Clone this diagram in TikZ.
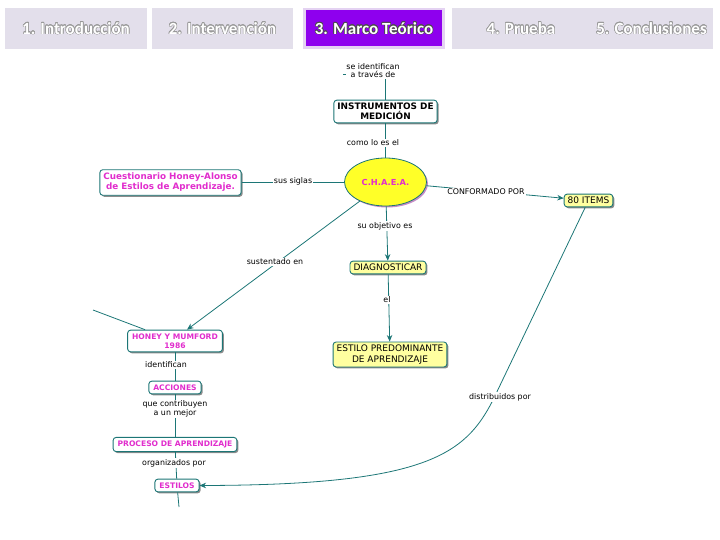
\documentclass[tikz,border=0pt]{standalone}
\usepackage{fontspec}
\setmainfont{DejaVu Sans}
\newfontfamily\carlito{Carlito}
\usepackage{contour}
\contourlength{0.5pt}
\usetikzlibrary{shapes.geometric,shadows,arrows.meta}

\definecolor{lavanda}{RGB}{227,223,235}
\definecolor{morado}{RGB}{142,0,238}
\definecolor{bordemorado}{RGB}{228,210,242}
\definecolor{verdeazul}{RGB}{28,118,118}
\definecolor{rosa}{RGB}{225,45,205}
\definecolor{amarillo}{RGB}{255,255,40}
\definecolor{amarilloclaro}{RGB}{255,255,160}

\tikzset{
  pestana/.style={fill=lavanda, draw=none, minimum height=41pt, inner sep=0pt,
    font=\carlito\bfseries\fontsize{17}{17}\selectfont, text=white},
  concepto/.style={rectangle, rounded corners=3pt, draw=verdeazul, line width=0.9pt,
    fill=white, align=center, inner xsep=4.5pt, inner ysep=3.5pt,
    drop shadow={shadow xshift=1.5pt, shadow yshift=-1.5pt, fill=black!45, opacity=1}},
  conceptorosa/.style={concepto, text=rosa, font=\bfseries\fontsize{7.6}{9}\selectfont},
  conceptoamarillo/.style={concepto, fill=amarilloclaro, inner xsep=3.5pt, inner ysep=3pt,
    font=\fontsize{9}{10.5}\selectfont},
  enlace/.style={fill=white, inner sep=0.8pt, align=center, font=\fontsize{7.9}{8.8}\selectfont},
  conector/.style={draw=verdeazul, line width=0.8pt},
  flecha/.style={conector, -{Stealth[length=6.5pt,width=5.5pt]}}
}

\newcommand{\pestanatexto}[1]{\contour{black!40}{#1}}

\begin{document}
\begin{tikzpicture}[x=1pt,y=-1pt]
\useasboundingbox (0,0) rectangle (720,540);

%pestañas
\node[pestana, minimum width=142pt] (p1) at (76,28.5) {\pestanatexto{1. Introducción}};
\node[pestana, minimum width=141pt] (p2) at (222.5,28.5) {\pestanatexto{2. Intervención}};
\node[pestana, fill=bordemorado, minimum width=142pt] (p3) at (374,28.5) {};
\node[pestana, fill=morado, minimum width=136pt, minimum height=36pt] (p3t) at (374,28.5)
  {\contour{black!70}{3. Marco Teórico}};
\node[pestana, minimum width=138pt] (p4) at (521,28.5) {\pestanatexto{4. Prueba}};
\node[pestana, minimum width=123pt] (p5) at (651.5,28.5) {\pestanatexto{5. Conclusiones}};

%conceptos
\node[concepto, inner xsep=3.5pt, inner ysep=3pt, font=\bfseries\fontsize{8.9}{10}\selectfont]
  (instrumentos) at (385.5,111.5) {INSTRUMENTOS DE\\MEDICIÓN};
\node[ellipse, draw=verdeazul, line width=0.8pt, fill=amarillo, minimum width=82pt,
  minimum height=48pt, text=rosa, font=\bfseries\fontsize{8.3}{9}\selectfont,
  drop shadow={shadow xshift=1.5pt, shadow yshift=-1.5pt, fill=violet!45, opacity=1}]
  (chaea) at (385.5,182) {C.H.A.E.A.};
\node[conceptorosa, inner xsep=3.5pt, font=\bfseries\fontsize{8.8}{10}\selectfont]
  (cuestionario) at (170.5,182.5) {Cuestionario Honey-Alonso\\de Estilos de Aprendizaje.};
\node[conceptoamarillo] (items) at (588.5,200.5) {80 ITEMS};
\node[conceptoamarillo] (diagnosticar) at (388,267.5) {DIAGNOSTICAR};
\node[conceptoamarillo] (predominante) at (390,354.5) {ESTILO PREDOMINANTE\\DE APRENDIZAJE};
\node[conceptorosa] (honey) at (175,341) {HONEY Y MUMFORD\\1986};
\node[conceptorosa] (acciones) at (175,387.5) {ACCIONES};
\node[conceptorosa] (proceso) at (175,444.5) {PROCESO DE APRENDIZAJE};
\node[conceptorosa] (estilos) at (177,485.5) {ESTILOS};

\coordinate (arriba) at (343,74);
\coordinate (arribafin) at (354,74);
\coordinate (arribavert) at (385.5,78);
\coordinate (izq) at (93,310);
\coordinate (abajo) at (179,507);
\coordinate (curva) at (493,400);

%conectores
\draw[conector] (arriba) -- (arribafin);
\draw[conector] (arribavert) -- (instrumentos);
\draw[conector] (instrumentos) -- (chaea);
\draw[conector] (cuestionario) -- (chaea.west |- cuestionario.east);
\draw[flecha] (chaea) -- (items);
\draw[flecha] (chaea) -- (diagnosticar);
\draw[flecha] (diagnosticar) -- (predominante);
\draw[flecha] (chaea) -- ([xshift=12pt]honey.north);
\draw[conector] (izq) -- (honey);
\draw[conector] (honey) -- (acciones);
\draw[conector] (acciones) -- (proceso);
\draw[conector] (proceso) -- (estilos);
\draw[conector] (estilos) -- (abajo);
\draw[flecha] (items) -- (curva) .. controls (465,455) and (425,485) .. (estilos.east);

%enlaces
\node[enlace] (identifican) at (373,70.5) {se identifican\\a través de};
\node[enlace] (comolo) at (373,143) {como lo es el};
\node[enlace] (siglas) at (293,181) {sus siglas};
\node[enlace] (conformado) at (486,192) {CONFORMADO POR};
\node[enlace] (objetivo) at (385,226) {su objetivo es};
\node[enlace] (el) at (387,300) {el};
\node[enlace] (sustentado) at (275,262) {sustentado en};
\node[enlace] (identif) at (166,365) {identifican};
\node[enlace] (contribuyen) at (175,409) {que contribuyen\\a un mejor};
\node[enlace] (organizados) at (174,463) {organizados por};
\node[enlace] (distribuidos) at (500,397) {distribuidos por};

\end{tikzpicture}
\end{document}
